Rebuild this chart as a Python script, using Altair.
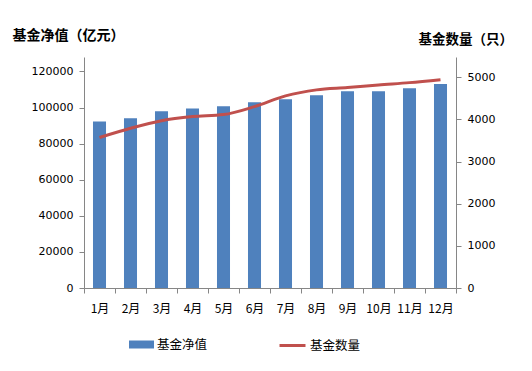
import altair as alt
import pandas as pd

months = ["1月", "2月", "3月", "4月", "5月", "6月", "7月", "8月", "9月", "10月", "11月", "12月"]
nav = [92200, 94000, 97900, 99500, 100700, 102900, 104600, 106800, 109000, 109000, 110700, 113000]
count = [3570, 3790, 3970, 4066, 4114, 4303, 4557, 4700, 4754, 4817, 4872, 4943]
left_ticks = [0, 20000, 40000, 60000, 80000, 100000, 120000]
right_ticks = [0, 1000, 2000, 3000, 4000, 5000]

df = pd.DataFrame({"month": months, "nav": nav, "count": count})

CJK = "Noto Sans CJK SC"
NUM = "DejaVu Sans"
AX = "#868686"

x = alt.X(
    "month:N",
    sort=months,
    title=None,
    scale=alt.Scale(paddingInner=0, paddingOuter=0),
    axis=alt.Axis(
        tickBand="extent",
        labelAngle=0,
        labelFont=CJK,
        labelFontSize=12,
        labelColor="black",
        labelPadding=10,
        domainColor=AX,
        tickColor=AX,
        tickSize=5,
    ),
)

bars = alt.Chart(df).mark_bar(width=alt.RelativeBandSize(0.42)).transform_calculate(
    s="'基金净值'"
).encode(
    x=x,
    y=alt.Y(
        "nav:Q",
        scale=alt.Scale(domain=[0, 128000], nice=False, zero=True),
        axis=alt.Axis(
            values=left_ticks,
            format="d",
            grid=False,
            title="基金净值（亿元）",
            titleAngle=0,
            titleAlign="left",
            titleBaseline="middle",
            titleX=-72,
            titleY=-22,
            titleFont=CJK,
            titleFontSize=14,
            titleFontWeight="bold",
            titleColor="black",
            labelFont=NUM,
            labelFontSize=11,
            labelColor="black",
            labelPadding=6,
            domainColor=AX,
            tickColor=AX,
            tickSize=5,
        ),
    ),
    color=alt.Color(
        "s:N",
        scale=alt.Scale(domain=["基金净值"], range=["#4F81BD"]),
        legend=alt.Legend(
            title=None,
            orient="none",
            legendX=45,
            legendY=275,
            symbolType="M-1,-0.32H1V0.32H-1Z",
            symbolSize=625,
            symbolStrokeWidth=0,
            symbolOpacity=1,
            labelFont=CJK,
            labelFontSize=12.5,
            labelColor="black",
            labelOffset=3,
        ),
    ),
)

line = alt.Chart(df).mark_line(strokeWidth=3, interpolate="monotone").transform_calculate(
    s="'基金数量'"
).encode(
    x=x,
    y=alt.Y(
        "count:Q",
        scale=alt.Scale(domain=[0, 5480], nice=False, zero=True),
        axis=alt.Axis(
            orient="right",
            values=right_ticks,
            format="d",
            grid=False,
            title="基金数量（只）",
            titleAngle=0,
            titleAlign="left",
            titleBaseline="middle",
            titleX=-38,
            titleY=-18,
            titleFont=CJK,
            titleFontSize=13.5,
            titleFontWeight="bold",
            titleColor="black",
            labelFont=NUM,
            labelFontSize=11,
            labelColor="black",
            labelPadding=6,
            domainColor=AX,
            tickColor=AX,
            tickSize=5,
        ),
    ),
    stroke=alt.Stroke(
        "s:N",
        scale=alt.Scale(domain=["基金数量"], range=["#C0504D"]),
        legend=alt.Legend(
            title=None,
            orient="none",
            legendX=194,
            legendY=274,
            symbolType="stroke",
            symbolSize=676,
            symbolStrokeWidth=3,
            labelFont=CJK,
            labelFontSize=12.5,
            labelColor="black",
            labelOffset=3,
        ),
    ),
)

chart = (
    alt.layer(bars, line)
    .resolve_scale(y="independent", color="independent", stroke="independent")
    .properties(
        width=372,
        height=231,
        background="white",
        autosize=alt.AutoSizeParams(type="none"),
        padding={"left": 76, "top": 49, "right": 60, "bottom": 70},
    )
    .configure_view(strokeWidth=0, stroke="transparent")
)

chart.save("out.html", embed_options={"renderer": "svg", "actions": False})
